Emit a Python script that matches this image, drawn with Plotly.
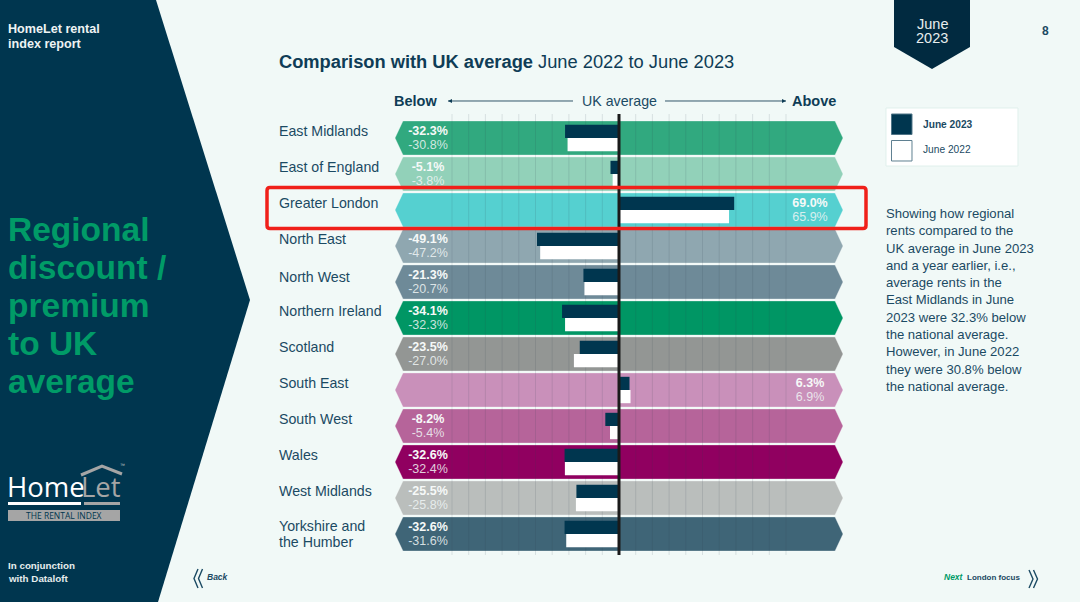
import plotly.graph_objects as go

# ---- data ----
regions = ["East Midlands", "East of England", "Greater London", "North East", "North West",
           "Northern Ireland", "Scotland", "South East", "South West", "Wales", "West Midlands",
           "Yorkshire and<br>the Humber"]
june_2023 = [-32.3, -5.1, 69.0, -49.1, -21.3, -34.1, -23.5, 6.3, -8.2, -32.6, -25.5, -32.6]
june_2022 = [-30.8, -3.8, 65.9, -47.2, -20.7, -32.3, -27.0, 6.9, -5.4, -32.4, -25.8, -31.6]
band_colours = ["#31a97f", "#92d1b9", "#55d0d0", "#8fa7b0", "#6e8a98", "#009664",
                "#939694", "#c990ba", "#b6649a", "#900060", "#babebc", "#3f6577"]
grid_ticks = [-100, -90, -80, -70, -60, -50, -40, -30, -20, -10, 10, 20, 30, 40, 50, 60, 70, 80, 90, 100]
note_lines = ["Showing how regional", "rents compared to the", "UK average in June 2023",
              "and a year earlier, i.e.,", "average rents in the", "East Midlands in June",
              "2023 were 32.3% below", "the national average.", "However, in June 2022",
              "they were 30.8% below", "the national average."]
headline_lines = ["Regional", "discount /", "premium", "to UK", "average"]

# ---- page geometry ----
W, H = 1080, 602
ZERO_PX, PX_PER_PCT = 619.0, 1.67
ROW0_PX, ROW_PX = 138.0, 36.0
NAVY, INK, BG = "#00364f", "#1b4a63", "#f1f9f7"
FONT = "Liberation Sans"

rows = list(range(len(regions)))
px = lambda x: x / W
py = lambda y: 1 - y / H
dx = lambda p: (p - ZERO_PX) / PX_PER_PCT
dy = lambda p: (p - ROW0_PX) / ROW_PX


def path(points, close=True):
    s = "M" + " L".join(f"{px(x):.5f},{py(y):.5f}" for x, y in points)
    return s + (" Z" if close else "")


shapes, notes = [], []


def poly(points, fill, layer="below", line=None, width=0, close=True):
    shapes.append(dict(type="path", xref="paper", yref="paper", layer=layer, path=path(points, close),
                       fillcolor=fill if close else "rgba(0,0,0,0)",
                       line=dict(color=line or "rgba(0,0,0,0)", width=width)))


def label(x, y, text, size=12, color=INK, anchor="left", family=FONT):
    notes.append(dict(x=px(x), y=py(y), xref="paper", yref="paper", text=text, showarrow=False,
                      xanchor=anchor, yanchor="middle", align=anchor, borderpad=0, borderwidth=0,
                      font=dict(family=family, size=size, color=color)))


# left panel
poly([(0, 0), (156, 0), (250, 300), (158, 602), (0, 602)], NAVY)
label(8, 29, "<b>HomeLet rental</b>", 12.6, "#eef3f3")
label(8, 44, "<b>index report</b>", 12.6, "#eef3f3")
for i, t in enumerate(headline_lines):
    label(8, 229 + i * 38.2, f"<b>{t}</b>", 33.5, "#009b67")
label(8, 565, "<b>In conjunction</b>", 9.8, "#e6eded")
label(8, 578, "<b>with Dataloft</b>", 9.8, "#e6eded")

# logo
label(7, 486, "Home", 27.5, "#ffffff", family="Open Sans")
label(81, 486, "Let", 27.5, "#a5a5a5", family="Open Sans")
label(120, 465, "™", 5, "#c8c8c8")
poly([(81, 475), (102, 466), (122, 474)], None, line="#a5a5a5", width=3, close=False)
poly([(8, 503.5), (81, 503.5)], None, line="#ffffff", width=3, close=False)
poly([(84, 503.5), (120, 503.5)], None, line="#a5a5a5", width=3, close=False)
poly([(8, 510), (120, 510), (120, 521), (8, 521)], "#a5a5a5")
label(64, 515.5, "THE RENTAL INDEX", 8.5, NAVY, "center", "Open Sans")

# title and header
label(279, 61.5, "<b>Comparison with UK average</b> June 2022 to June 2023", 18.3, "#0f3d56")
label(394, 101, "<b>Below</b>", 14.5, "#0f3d56")
label(619.5, 101, "UK average", 14.2, INK, "center")
label(792, 101, "<b>Above</b>", 14.5, "#0f3d56")
for start, end in [(573, 448), (665, 786)]:
    poly([(start, 101), (end, 101)], None, line="#33566a", width=1, close=False)
    d = 4 if end > start else -4
    poly([(end, 101), (end - d, 99), (end - d, 103)], "#0f3d56")

# pennant and page number
poly([(894, 0), (970, 0), (970, 47), (932, 69), (894, 47)], "#012a40")
label(932, 24, "June", 14.5, "#e8eeee", "center")
label(932, 38, "2023", 14.5, "#e8eeee", "center")
label(1045, 31, "<b>8</b>", 12, INK, "center")

# legend box
poly([(886, 108), (1018, 108), (1018, 166), (886, 166)], "#ffffff", line="#e0f0ec", width=1)
poly([(891.5, 114), (912, 114), (912, 134.5), (891.5, 134.5)], NAVY, line="#4f7486", width=1)
poly([(891.5, 140.5), (912, 140.5), (912, 161), (891.5, 161)], "#ffffff", line="#5f8091", width=1)
label(923, 124, "<b>June 2023</b>", 10.2, INK)
label(923, 150, "June 2022", 10.2, INK)

# side note
for i, t in enumerate(note_lines):
    label(886, 213.5 + i * 17.3, t, 13.1, INK)

# navigation
for off in (0, 4.5):
    poly([(198 + off, 569), (194 + off, 578.5), (198 + off, 588)], None, line=INK, width=1.4, close=False)
    poly([(1029 + off, 570), (1033 + off, 579), (1029 + off, 588)], None, line=INK, width=1.4, close=False)
label(207, 577, "<b><i>Back</i></b>", 8.5, INK)
label(944, 577, "<b><i><span style='color:#009b67'>Next</span></i></b>", 8.5)
label(967, 577, "<b>London focus</b>", 8, INK)

# region labels
label_nudge = {4: 2}
for r, name in zip(rows, regions):
    if "<br>" in name:
        a, b = name.split("<br>")
        label(279, 526, a, 14.2)
        label(279, 541.5, b, 14.2)
    else:
        label(279, ROW0_PX + r * ROW_PX - 7 + label_nudge.get(r, 0), name, 14.2)

# bands, drawn in axis coordinates
TIP, CORNER, HALF = dx(843), dx(835), 17 / ROW_PX
for r, colour in zip(rows, band_colours):
    pts = [(-TIP, r), (-CORNER, r - HALF), (CORNER, r - HALF), (TIP, r), (CORNER, r + HALF), (-CORNER, r + HALF)]
    shapes.append(dict(type="path", xref="x", yref="y", layer="below", fillcolor=colour,
                       line=dict(width=1, color="rgba(255,255,255,0.3)"),
                       path="M" + " L".join(f"{x:.3f},{y:.4f}" for x, y in pts) + " Z"))

GRID_TOP, GRID_BOTTOM = dy(114), dy(555)
for t in grid_ticks:
    shapes.append(dict(type="line", xref="x", yref="y", layer="below", x0=t, x1=t, y0=GRID_TOP, y1=GRID_BOTTOM,
                       line=dict(color="rgba(45,65,75,0.13)", width=1)))
shapes.append(dict(type="line", xref="x", yref="y", layer="above", x0=0, x1=0, y0=GRID_TOP, y1=GRID_BOTTOM,
                   line=dict(color="#1a1a1a", width=3)))

# highlight, with slightly rounded corners
L, R, T, B, C = 267, 866, 187.5, 228.5, 3
shapes.append(dict(type="path", xref="paper", yref="paper", layer="above", fillcolor="rgba(0,0,0,0)",
                   line=dict(color="#f0201a", width=3.5),
                   path=(f"M{px(L + C)},{py(T)} L{px(R - C)},{py(T)} Q{px(R)},{py(T)} {px(R)},{py(T + C)} "
                         f"L{px(R)},{py(B - C)} Q{px(R)},{py(B)} {px(R - C)},{py(B)} "
                         f"L{px(L + C)},{py(B)} Q{px(L)},{py(B)} {px(L)},{py(B - C)} "
                         f"L{px(L)},{py(T + C)} Q{px(L)},{py(T)} {px(L + C)},{py(T)} Z")))

fig = go.Figure()
BAR = 13.2 / ROW_PX
fig.add_bar(y=rows, x=june_2023, orientation="h", name="June 2023", width=BAR, offset=-BAR,
            marker=dict(color=NAVY, line=dict(width=0)))
fig.add_bar(y=rows, x=june_2022, orientation="h", name="June 2022", width=BAR, offset=0,
            marker=dict(color="#ffffff", line=dict(width=0)))

LABEL_X = dx(428), dx(810)
for vals, shift, tmpl, colour in [(june_2023, -0.18, "<b>%s</b>", "#f6f9f8"),
                                  (june_2022, 0.22, "%s", "rgba(240,245,245,0.85)")]:
    fig.add_scatter(x=[LABEL_X[0] if v < 0 else LABEL_X[1] for v in vals], y=[r + shift for r in rows],
                    mode="text", text=[tmpl % f"{v:.1f}%" for v in vals], textposition="middle center",
                    textfont=dict(family=FONT, size=12.5, color=colour), hoverinfo="skip")

fig.update_layout(
    width=W, height=H, autosize=False, margin=dict(l=0, r=0, t=0, b=0, pad=0),
    paper_bgcolor=BG, plot_bgcolor="rgba(0,0,0,0)", barmode="overlay", showlegend=False,
    xaxis=dict(range=[dx(0), dx(W)], visible=False, fixedrange=True),
    yaxis=dict(range=[dy(H), dy(0)], visible=False, fixedrange=True),
    shapes=shapes, annotations=notes,
)
fig.write_html("out.html", config={"displayModeBar": False},
               post_script="document.body.style.margin='0';document.body.style.overflow='hidden';")
